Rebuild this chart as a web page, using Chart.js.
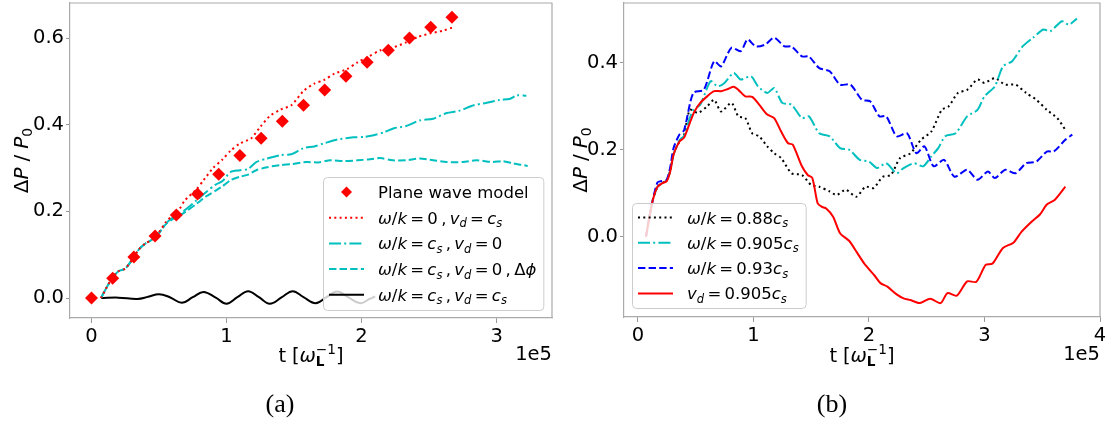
<!DOCTYPE html>
<html>
<head>
<meta charset="utf-8">
<script src="https://cdn.jsdelivr.net/npm/chart.js@4.4.0/dist/chart.umd.min.js"></script>
<style>
  html, body { margin: 0; padding: 0; background: #fff; }
  #wrap { position: relative; width: 1110px; height: 425px; overflow: hidden; }
  canvas { position: absolute; top: 0; }
</style>
</head>
<body>
<div id="wrap">
  <canvas id="chartA" width="556" height="425" style="left:0px"></canvas>
  <canvas id="chartB" width="554" height="425" style="left:556px"></canvas>
</div>
<script>
// ---------- data, panel (a) : t in units of 1e5 ----------
var tPlane = [0, 0.157, 0.314, 0.471, 0.628, 0.785, 0.942, 1.099, 1.256, 1.413, 1.57, 1.727, 1.884, 2.041, 2.198, 2.355, 2.512, 2.669];
var pPlane = [0, 0.046, 0.095, 0.143, 0.192, 0.24, 0.286, 0.329, 0.369, 0.408, 0.445, 0.48, 0.512, 0.544, 0.572, 0.6, 0.625, 0.648];

var tRedA = [0.07, 0.15, 0.2, 0.25, 0.3, 0.35, 0.4, 0.45, 0.5, 0.55, 0.6, 0.65, 0.69, 0.78, 0.83, 0.9, 0.97, 1.03, 1.1, 1.18, 1.25, 1.32, 1.4, 1.48, 1.57, 1.65, 1.72, 1.8, 1.89, 1.97, 2.05, 2.14, 2.23, 2.33, 2.42, 2.51, 2.6, 2.69];
var pRedA = [0, 0.045, 0.062, 0.068, 0.088, 0.112, 0.126, 0.135, 0.152, 0.175, 0.19, 0.205, 0.225, 0.252, 0.272, 0.3, 0.32, 0.34, 0.357, 0.368, 0.395, 0.42, 0.435, 0.445, 0.478, 0.495, 0.503, 0.518, 0.528, 0.544, 0.557, 0.572, 0.578, 0.59, 0.603, 0.611, 0.617, 0.626];

var tDashDotA = [0.07, 0.15, 0.2, 0.25, 0.3, 0.35, 0.4, 0.45, 0.5, 0.55, 0.6, 0.65, 0.7, 0.78, 0.85, 0.92, 0.97, 1.03, 1.1, 1.16, 1.22, 1.3, 1.4, 1.48, 1.57, 1.65, 1.72, 1.82, 1.94, 2.02, 2.09, 2.17, 2.24, 2.33, 2.43, 2.53, 2.63, 2.72, 2.83, 2.92, 3.02, 3.1, 3.15, 3.22];
var pDashDotA = [0, 0.045, 0.062, 0.068, 0.088, 0.112, 0.126, 0.135, 0.15, 0.172, 0.185, 0.192, 0.205, 0.226, 0.245, 0.262, 0.27, 0.291, 0.295, 0.298, 0.314, 0.322, 0.33, 0.332, 0.346, 0.35, 0.357, 0.366, 0.371, 0.372, 0.376, 0.383, 0.392, 0.397, 0.41, 0.414, 0.427, 0.432, 0.445, 0.45, 0.457, 0.46, 0.468, 0.467];

var tDashedA = [0.07, 0.15, 0.2, 0.25, 0.3, 0.35, 0.4, 0.45, 0.5, 0.55, 0.6, 0.65, 0.7, 0.78, 0.85, 0.92, 0.97, 1.03, 1.1, 1.16, 1.22, 1.3, 1.4, 1.48, 1.59, 1.68, 1.77, 1.87, 1.97, 2.05, 2.14, 2.23, 2.33, 2.43, 2.53, 2.63, 2.75, 2.85, 2.97, 3.05, 3.12, 3.23];
var pDashedA = [0, 0.045, 0.062, 0.068, 0.088, 0.112, 0.126, 0.135, 0.15, 0.17, 0.182, 0.19, 0.2, 0.218, 0.235, 0.248, 0.258, 0.272, 0.28, 0.285, 0.295, 0.302, 0.307, 0.309, 0.314, 0.313, 0.318, 0.316, 0.318, 0.32, 0.323, 0.318, 0.318, 0.322, 0.318, 0.314, 0.314, 0.318, 0.314, 0.316, 0.311, 0.305];

var tBlackA = [0.07, 0.2, 0.34, 0.42, 0.5, 0.58, 0.67, 0.75, 0.83, 0.92, 1.0, 1.08, 1.16, 1.24, 1.32, 1.41, 1.49, 1.57, 1.66, 1.74, 1.82, 1.9, 1.99, 2.06, 2.1];
var pBlackA = [0, 0.001, -0.002, 0.003, 0.009, 0.002, -0.011, 0.002, 0.014, 0.001, -0.013, 0.002, 0.016, 0.002, -0.013, 0.002, 0.016, 0.002, -0.012, 0.002, 0.015, 0.002, -0.012, -0.002, 0.004];

var xTicksA = [0, 1, 2, 3];
var yTicksA = [0, 0.2, 0.4, 0.6];

// ---------- data, panel (b) ----------
var t088 = [0.07, 0.10, 0.13, 0.17, 0.21, 0.25, 0.28, 0.31, 0.36, 0.40, 0.45, 0.52, 0.60, 0.66, 0.72, 0.81, 0.87, 0.93, 0.99, 1.05, 1.12, 1.18, 1.24, 1.33, 1.42, 1.50, 1.57, 1.66, 1.72, 1.80, 1.89, 1.97, 2.04, 2.12, 2.19, 2.27, 2.36, 2.45, 2.54, 2.63, 2.69, 2.77, 2.85, 2.94, 3.0, 3.09, 3.18, 3.27, 3.36, 3.45, 3.54, 3.63, 3.70];
var p088 = [0, 0.045, 0.085, 0.115, 0.123, 0.13, 0.152, 0.19, 0.219, 0.235, 0.292, 0.285, 0.3, 0.315, 0.288, 0.308, 0.277, 0.273, 0.238, 0.231, 0.208, 0.192, 0.181, 0.146, 0.142, 0.119, 0.115, 0.104, 0.096, 0.108, 0.092, 0.115, 0.112, 0.138, 0.142, 0.181, 0.192, 0.223, 0.242, 0.292, 0.3, 0.331, 0.338, 0.362, 0.354, 0.365, 0.35, 0.35, 0.331, 0.315, 0.292, 0.273, 0.246];

var t0905 = [0.07, 0.10, 0.13, 0.17, 0.21, 0.25, 0.28, 0.31, 0.36, 0.40, 0.44, 0.48, 0.54, 0.63, 0.69, 0.75, 0.83, 0.89, 0.98, 1.04, 1.12, 1.18, 1.25, 1.33, 1.42, 1.48, 1.57, 1.66, 1.75, 1.83, 1.92, 2.0, 2.07, 2.15, 2.24, 2.30, 2.39, 2.47, 2.54, 2.60, 2.66, 2.75, 2.85, 2.94, 3.0, 3.09, 3.16, 3.24, 3.33, 3.42, 3.51, 3.57, 3.67, 3.73, 3.80];
var p0905 = [0, 0.045, 0.085, 0.115, 0.123, 0.13, 0.152, 0.19, 0.222, 0.232, 0.265, 0.292, 0.304, 0.358, 0.346, 0.354, 0.377, 0.362, 0.369, 0.346, 0.331, 0.342, 0.308, 0.304, 0.273, 0.277, 0.238, 0.231, 0.204, 0.2, 0.177, 0.173, 0.158, 0.169, 0.146, 0.158, 0.169, 0.162, 0.185, 0.204, 0.231, 0.238, 0.277, 0.292, 0.323, 0.346, 0.392, 0.404, 0.438, 0.458, 0.477, 0.473, 0.496, 0.488, 0.502];

var t093 = [0.07, 0.10, 0.13, 0.17, 0.21, 0.25, 0.28, 0.31, 0.36, 0.40, 0.48, 0.57, 0.66, 0.72, 0.81, 0.89, 0.95, 1.02, 1.10, 1.18, 1.27, 1.33, 1.42, 1.48, 1.57, 1.66, 1.75, 1.84, 1.94, 2.01, 2.09, 2.15, 2.24, 2.33, 2.41, 2.48, 2.56, 2.65, 2.74, 2.85, 2.94, 3.03, 3.09, 3.18, 3.27, 3.36, 3.45, 3.54, 3.60, 3.70, 3.76];
var p093 = [0, 0.045, 0.085, 0.125, 0.128, 0.131, 0.16, 0.205, 0.235, 0.245, 0.331, 0.338, 0.404, 0.392, 0.435, 0.427, 0.454, 0.438, 0.442, 0.458, 0.438, 0.438, 0.415, 0.415, 0.388, 0.381, 0.35, 0.35, 0.315, 0.312, 0.277, 0.277, 0.231, 0.238, 0.192, 0.208, 0.162, 0.177, 0.138, 0.154, 0.131, 0.15, 0.135, 0.154, 0.146, 0.169, 0.173, 0.196, 0.196, 0.223, 0.235];

var tVd = [0.07, 0.10, 0.13, 0.17, 0.21, 0.25, 0.28, 0.31, 0.36, 0.40, 0.45, 0.49, 0.54, 0.60, 0.66, 0.72, 0.78, 0.83, 0.87, 0.93, 0.99, 1.05, 1.12, 1.18, 1.24, 1.30, 1.34, 1.42, 1.47, 1.51, 1.556, 1.59, 1.63, 1.69, 1.75, 1.83, 1.90, 1.96, 2.05, 2.10, 2.16, 2.24, 2.30, 2.36, 2.44, 2.53, 2.62, 2.68, 2.76, 2.85, 2.93, 3.01, 3.07, 3.16, 3.25, 3.32, 3.41, 3.48, 3.54, 3.61, 3.70];
var pVd = [0, 0.045, 0.085, 0.115, 0.123, 0.128, 0.15, 0.19, 0.219, 0.228, 0.262, 0.288, 0.308, 0.323, 0.335, 0.335, 0.34, 0.345, 0.338, 0.323, 0.322, 0.304, 0.281, 0.273, 0.242, 0.215, 0.212, 0.162, 0.142, 0.135, 0.077, 0.069, 0.065, 0.046, 0.008, -0.01, -0.038, -0.062, -0.09, -0.107, -0.115, -0.133, -0.142, -0.146, -0.153, -0.143, -0.153, -0.13, -0.136, -0.103, -0.104, -0.065, -0.062, -0.026, -0.014, 0.011, 0.035, 0.051, 0.074, 0.085, 0.115];

var xTicksB = [0, 1, 2, 3, 4];
var yTicksB = [0, 0.2, 0.4];

// ---------- text helpers (mathtext-like labels) ----------
var FONT = '"DejaVu Sans"';
Chart.defaults.font.family = FONT;
Chart.defaults.color = '#000';

function it(t) { return { t: t, i: 1 }; }
function rm(t) { return { t: t }; }
function sb(t, i) { return { sub: t, i: i }; }
var g = { g: 0.2 };

function fnt(i, b, size) {
  return (i ? 'italic ' : '') + (b ? 'bold ' : '') + size + 'px ' + FONT;
}
function segW(ctx, s, size) {
  if (s.g !== undefined) return s.g * size;
  if (s.sub !== undefined || s.sup !== undefined) {
    var w = 0;
    if (s.sub !== undefined) { ctx.font = fnt(s.i, s.b, size * 0.7); w = Math.max(w, ctx.measureText(s.sub).width); }
    if (s.sup !== undefined) { ctx.font = fnt(0, 0, size * 0.7); w = Math.max(w, ctx.measureText(s.sup).width); }
    return w;
  }
  ctx.font = fnt(s.i, s.b, size);
  return ctx.measureText(s.t).width;
}
function richW(ctx, segs, size) {
  var w = 0;
  segs.forEach(function (s) { w += segW(ctx, s, size); });
  return w;
}
function drawRich(ctx, segs, x, y, size, align) {
  var total = richW(ctx, segs, size);
  var cx = align === 'center' ? x - total / 2 : (align === 'right' ? x - total : x);
  ctx.textAlign = 'left';
  ctx.textBaseline = 'alphabetic';
  ctx.fillStyle = '#000';
  segs.forEach(function (s) {
    var w = segW(ctx, s, size);
    if (s.sub !== undefined) { ctx.font = fnt(s.i, s.b, size * 0.7); ctx.fillText(s.sub, cx, y + size * 0.22); }
    if (s.sup !== undefined) { ctx.font = fnt(0, 0, size * 0.7); ctx.fillText(s.sup, cx, y - size * 0.42); }
    if (s.t !== undefined) { ctx.font = fnt(s.i, s.b, size); ctx.fillText(s.t, cx, y); }
    cx += w;
  });
  return total;
}

// legend labels
var labPlane = [rm('Plane wave model')];
var labRedA = [it('ω'), rm('/'), it('k'), g, rm('='), g, rm('0'), g, rm(','), g, it('v'), sb('d', 1), g, rm('='), g, it('c'), sb('s', 1)];
var labDashDotA = [it('ω'), rm('/'), it('k'), g, rm('='), g, it('c'), sb('s', 1), g, rm(','), g, it('v'), sb('d', 1), g, rm('='), g, rm('0')];
var labDashedA = labDashDotA.concat([g, rm(','), g, rm('Δ'), it('ϕ')]);
var labBlackA = [it('ω'), rm('/'), it('k'), g, rm('='), g, it('c'), sb('s', 1), g, rm(','), g, it('v'), sb('d', 1), g, rm('='), g, it('c'), sb('s', 1)];
function labWk(num) { return [it('ω'), rm('/'), it('k'), g, rm('='), g, rm(num), it('c'), sb('s', 1)]; }
var labVd = [it('v'), sb('d', 1), g, rm('='), g, rm('0.905'), it('c'), sb('s', 1)];

var yTitle = [rm('Δ'), it('P'), { g: 0.3 }, rm('/'), { g: 0.3 }, it('P'), sb('0', 0)];
var xTitle = [rm('t'), { g: 0.3 }, rm('['), it('ω'), { sub: 'L', b: 1, sup: '−1' }, rm(']')];

// ---------- decorations plugin: spines, legend, titles, caption ----------
var decor = {
  id: 'decor',
  afterDraw: function (chart, args, o) {
    var ctx = chart.ctx, a = chart.chartArea;
    ctx.save();
    ctx.strokeStyle = '#aaaaaa';
    ctx.lineWidth = 1.2;
    ctx.beginPath();
    ctx.moveTo(a.left, a.top);
    ctx.lineTo(a.right, a.top);
    ctx.lineTo(a.right, a.bottom);
    ctx.stroke();

    // legend box (semi transparent, like matplotlib)
    var L = o.legend, fs = 16.5;
    var maxW = 0;
    L.items.forEach(function (item) { maxW = Math.max(maxW, richW(ctx, item.lab, fs)); });
    var bw = 6 + 35 + 14 + maxW + 7;
    ctx.fillStyle = 'rgba(255,255,255,0.8)';
    ctx.strokeStyle = '#cccccc';
    ctx.lineWidth = 1;
    ctx.beginPath();
    ctx.roundRect(L.x + 0.5, L.y + 0.5, bw, L.h, 4);
    ctx.fill();
    ctx.stroke();
    L.items.forEach(function (item, k) {
      var cy = L.y + L.first + k * L.step;
      var hx = L.x + 6;
      if (item.marker) {
        ctx.fillStyle = item.color;
        ctx.beginPath();
        ctx.moveTo(hx + 17.5, cy - 5.5);
        ctx.lineTo(hx + 23, cy);
        ctx.lineTo(hx + 17.5, cy + 5.5);
        ctx.lineTo(hx + 12, cy);
        ctx.closePath();
        ctx.fill();
      } else {
        ctx.strokeStyle = item.color;
        ctx.lineWidth = 2;
        ctx.setLineDash(item.dash || []);
        ctx.beginPath();
        ctx.moveTo(hx, cy);
        ctx.lineTo(hx + 35, cy);
        ctx.stroke();
        ctx.setLineDash([]);
      }
      drawRich(ctx, item.lab, hx + 49, cy + 6, fs, 'left');
    });

    var midX = (a.left + a.right) / 2, midY = (a.top + a.bottom) / 2;
    drawRich(ctx, xTitle, midX, 362, 19.5, 'center');
    ctx.save();
    ctx.translate(o.yTitleX, midY);
    ctx.rotate(-Math.PI / 2);
    drawRich(ctx, yTitle, 0, 0, 20, 'center');
    ctx.restore();
    drawRich(ctx, [rm('1e5')], a.right, 360, 19.5, 'right');
    ctx.font = '26px "Liberation Serif"';
    ctx.textAlign = 'center';
    ctx.textBaseline = 'alphabetic';
    ctx.fillStyle = '#000';
    ctx.fillText(o.caption, o.captionX, 412);
    ctx.restore();
  }
};

// ---------- chart builders ----------
function pts(ts, vs) { return ts.map(function (t, k) { return { x: t, y: vs[k] }; }); }
function lineSet(label, ts, vs, color, dash, order, tension) {
  return {
    type: 'line', label: label, data: pts(ts, vs),
    borderColor: color, backgroundColor: color, borderWidth: 2, borderDash: dash,
    pointRadius: 0, fill: false, tension: tension, order: order
  };
}
function scales(xr, yr, xt, yt, xh, yw) {
  return {
    x: {
      type: 'linear', min: xr[0], max: xr[1],
      afterBuildTicks: function (s) { s.ticks = xt.map(function (v) { return { value: v }; }); },
      afterFit: function (s) { s.height = xh; s.paddingLeft = 0; s.paddingRight = 0; },
      ticks: { font: { size: 19.5 }, color: '#000', padding: 2, maxRotation: 0, autoSkip: false,
               callback: function (v) { return v.toFixed(0); } },
      grid: { drawOnChartArea: false, drawTicks: true, tickLength: 5, color: '#999999' },
      border: { color: '#aaaaaa', width: 1.2 }
    },
    y: {
      type: 'linear', min: yr[0], max: yr[1],
      afterBuildTicks: function (s) { s.ticks = yt.map(function (v) { return { value: v }; }); },
      afterFit: function (s) { s.width = yw; s.paddingTop = 0; s.paddingBottom = 0; },
      ticks: { font: { size: 19.5 }, color: '#000', padding: 2, autoSkip: false,
               callback: function (v) { return v.toFixed(1); } },
      grid: { drawOnChartArea: false, drawTicks: true, tickLength: 4, color: '#999999' },
      border: { color: '#aaaaaa', width: 1.2 }
    }
  };
}
var common = {
  responsive: false, animation: false, events: [],
  plugins: { legend: { display: false }, tooltip: { enabled: false } }
};

// panel (a)
new Chart(document.getElementById('chartA').getContext('2d'), {
  type: 'line',
  data: {
    datasets: [
      { type: 'line', label: 'Plane wave model', data: pts(tPlane, pPlane), showLine: false,
        pointStyle: 'rectRot', pointRadius: 6.5, pointBackgroundColor: '#ff0000', pointBorderWidth: 0, order: 0 },
      lineSet('red', tRedA, pRedA, '#ff0000', [2, 3.3], 1, 0.25),
      lineSet('dashdot', tDashDotA, pDashDotA, '#00bfbf', [12, 3.2, 2, 3.2], 2, 0.25),
      lineSet('dashed', tDashedA, pDashedA, '#00bfbf', [7.4, 3.2], 3, 0.25),
      lineSet('black', tBlackA, pBlackA, '#000000', [], 4, 0.4)
    ]
  },
  options: Object.assign({}, common, {
    layout: { autoPadding: false, padding: { left: 0, right: 4, top: 3, bottom: 0 } },
    scales: scales([-0.159, 3.41], [-0.046, 0.681], xTicksA, yTicksA, 107, 70),
    plugins: Object.assign({}, common.plugins, {
      decor: {
        caption: '(a)', captionX: 280, yTitleX: 28,
        legend: {
          x: 323, y: 177, h: 133, first: 15, step: 25.7,
          items: [
            { lab: labPlane, marker: true, color: '#ff0000' },
            { lab: labRedA, color: '#ff0000', dash: [2, 3.3] },
            { lab: labDashDotA, color: '#00bfbf', dash: [12, 3.2, 2, 3.2] },
            { lab: labDashedA, color: '#00bfbf', dash: [7.4, 3.2] },
            { lab: labBlackA, color: '#000000' }
          ]
        }
      }
    })
  }),
  plugins: [decor]
});

// panel (b)
new Chart(document.getElementById('chartB').getContext('2d'), {
  type: 'line',
  data: {
    datasets: [
      lineSet('0.88', t088, p088, '#000000', [2, 3.3], 4, 0.25),
      lineSet('0.905', t0905, p0905, '#00bfbf', [12, 3.2, 2, 3.2], 3, 0.25),
      lineSet('0.93', t093, p093, '#0000ff', [7.4, 3.2], 2, 0.25),
      lineSet('vd', tVd, pVd, '#ff0000', [], 1, 0.25)
    ]
  },
  options: Object.assign({}, common, {
    layout: { autoPadding: false, padding: { left: 0, right: 10, top: 3, bottom: 0 } },
    scales: scales([-0.12, 4.0], [-0.185, 0.538], xTicksB, yTicksB, 108, 68),
    plugins: Object.assign({}, common.plugins, {
      decor: {
        caption: '(b)', captionX: 276, yTitleX: 31,
        legend: {
          x: 76, y: 203, h: 105, first: 14.5, step: 25.3,
          items: [
            { lab: labWk('0.88'), color: '#000000', dash: [2, 3.3] },
            { lab: labWk('0.905'), color: '#00bfbf', dash: [12, 3.2, 2, 3.2] },
            { lab: labWk('0.93'), color: '#0000ff', dash: [7.4, 3.2] },
            { lab: labVd, color: '#ff0000' }
          ]
        }
      }
    })
  }),
  plugins: [decor]
});
</script>
</body>
</html>
